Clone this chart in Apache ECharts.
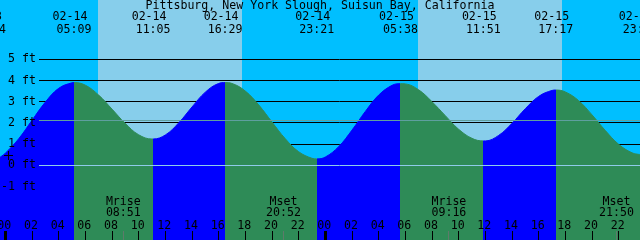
<!DOCTYPE html>
<html><head><meta charset="utf-8">
<script src="https://cdn.jsdelivr.net/npm/echarts@6/dist/echarts.min.js"></script>
<style>html,body{margin:0;padding:0;background:#00BFFF;overflow:hidden}#c{width:640px;height:240px}</style>
</head><body><div id="c"></div>
<script>
// ---- data (hours counted from 02-14 00:00) ----
const titleText = 'Pittsburg, New York Slough, Suisun Bay, California';
const tideHours = [-0.4, 0, 1, 2, 3, 4, 5, 5.15, 6, 7, 8, 9, 10, 11, 11.083, 12, 13, 14, 15, 16, 16.483, 17, 18, 19, 20, 21, 22, 23, 23.35,
  24, 25, 26, 27, 28, 29, 29.633, 30, 31, 32, 33, 34, 35, 35.85, 36, 37, 38, 39, 40, 41, 41.283, 42, 43, 44, 45, 46, 47, 47.6];
const tideFeet = [0.38, 0.57, 1.25, 2.12, 2.98, 3.63, 3.89, 3.90, 3.78, 3.31, 2.65, 1.97, 1.44, 1.24, 1.24, 1.43, 2.00, 2.75, 3.45, 3.86, 3.90, 3.86, 3.50, 2.85, 2.04, 1.25, 0.64, 0.33, 0.30,
  0.39, 0.88, 1.66, 2.54, 3.31, 3.77, 3.85, 3.84, 3.56, 3.00, 2.34, 1.70, 1.27, 1.15, 1.15, 1.41, 1.98, 2.67, 3.25, 3.53, 3.55, 3.46, 3.05, 2.38, 1.64, 0.99, 0.59, 0.51];
const extremeDates = ['02-13', '02-14', '02-14', '02-14', '02-14', '02-15', '02-15', '02-15', '02-15'];
const extremeClock = ['22:44', '05:09', '11:05', '16:29', '23:21', '05:38', '11:51', '17:17', '23:37'];
const extremeKinds = ['L', 'H', 'L', 'H', 'L', 'H', 'L', 'H', 'L'];
const sunRise = [6.95, 30.93];
const sunSet = [17.73, 41.73];
const hourTicks = [0, 2, 4, 6, 8, 10, 12, 14, 16, 18, 20, 22, 24, 26, 28, 30, 32, 34, 36, 38, 40, 42, 44, 46];
const hourLabels = ['00', '02', '04', '06', '08', '10', '12', '14', '16', '18', '20', '22', '00', '02', '04', '06', '08', '10', '12', '14', '16', '18', '20', '22'];
const footTicks = [-1, 0, 1, 2, 3, 4, 5];
const footLabels = ['-1 ft', '0 ft', '1 ft', '2 ft', '3 ft', '4 ft', '5 ft'];
const gridFeet = [1, 2, 3, 4, 5];
const datumFeet = [2.1, 0];
const moonDates = ['02-14', '02-14', '02-15', '02-15'];
const moonClock = ['08:51', '20:52', '09:16', '21:50'];
const moonKinds = ['Mrise', 'Mset', 'Mrise', 'Mset'];
const markerPoint = [0.24, 0.46];

// ---- styling ----
const X_MIN = -0.4, X_MAX = 47.6, Y_MIN = -3.524, Y_MAX = 7.797;
const NIGHT = '#00BFFF', DAY = '#87CEEB', RISE = '#0000FF', FALL = '#2E8B57';
const DATUM_COLORS = ['#5F9F9F', '#8FCBEA'];
const FONT = "11.6px 'DejaVu Sans Mono', monospace";

function toHours(d, c) {
  const day = (parseInt(d.slice(3), 10) - 14) * 24;
  const p = c.split(':').map(Number);
  return day + p[0] + p[1] / 60;
}
const extremeHours = extremeDates.map((d, i) => toHours(d, extremeClock[i]));
const moonHours = moonDates.map((d, i) => toHours(d, moonClock[i]));

const pieces = [];
for (let i = 0; i < extremeHours.length - 1; i++) {
  pieces.push({ gte: extremeHours[i], lt: extremeHours[i + 1], color: extremeKinds[i + 1] === 'H' ? RISE : FALL });
}
const skyBands = [];
let t0 = X_MIN;
for (let i = 0; i < sunRise.length; i++) {
  skyBands.push([t0, sunRise[i], 0]);
  skyBands.push([sunRise[i], sunSet[i], 1]);
  t0 = sunSet[i];
}
skyBands.push([t0, X_MAX, 0]);

function txt(text, x, y, align) {
  return { type: 'text', silent: true, style: { text: text, x: x, y: y, font: FONT, fill: '#000', align: align || 'center', verticalAlign: 'middle' } };
}

const chart = echarts.init(document.getElementById('c'), null, { renderer: 'canvas' });
chart.setOption({
  animation: false,
  backgroundColor: NIGHT,
  title: { text: titleText, left: 'center', top: 0, padding: 0, textStyle: { fontFamily: "'DejaVu Sans Mono', monospace", fontSize: 11.6, fontWeight: 'normal', color: '#000' } },
  grid: { left: 0, right: 0, top: 0, bottom: 0 },
  xAxis: { type: 'value', min: X_MIN, max: X_MAX, show: false },
  yAxis: { type: 'value', min: Y_MIN, max: Y_MAX, show: false },
  visualMap: { show: false, type: 'piecewise', dimension: 0, seriesIndex: 2, pieces: pieces, outOfRange: { color: FALL } },
  series: [
    { type: 'custom', z: 0, data: skyBands, renderItem: function (p, api) {
        const a = api.coord([api.value(0), Y_MAX]), b = api.coord([api.value(1), Y_MIN]);
        const x0 = Math.round(a[0]), x1 = Math.round(b[0]);
        return { type: 'rect', silent: true, shape: { x: x0, y: a[1], width: x1 - x0, height: b[1] - a[1] }, style: { fill: api.value(2) ? DAY : NIGHT } };
      } },
    { type: 'custom', z: 1, data: gridFeet.map(v => [X_MIN, v]), renderItem: function (p, api) {
        const y = Math.floor(api.coord([X_MIN, api.value(1)])[1]) + 0.5;
        const xr = api.coord([X_MAX, 0])[0];
        return { type: 'line', silent: true, shape: { x1: 39, y1: y, x2: xr, y2: y }, style: { stroke: '#000', lineWidth: 1 } };
      } },
    { type: 'line', z: 2, data: tideHours.map((h, i) => [h, tideFeet[i]]), smooth: 0.4, showSymbol: false, symbol: 'none',
      lineStyle: { width: 1 }, areaStyle: { opacity: 1, origin: 'start' } },
    { type: 'custom', z: 3, data: datumFeet.map((v, i) => [X_MIN, v, i]), renderItem: function (p, api) {
        const y = Math.floor(api.coord([X_MIN, api.value(1)])[1]) + 0.5;
        const xr = api.coord([X_MAX, 0])[0];
        return { type: 'line', silent: true, shape: { x1: 39, y1: y, x2: xr, y2: y }, style: { stroke: DATUM_COLORS[api.value(2)], lineWidth: 1 } };
      } },
    { type: 'custom', z: 4, data: footTicks.map(v => [X_MIN, v]), renderItem: function (p, api) {
        const y = api.coord([X_MIN, api.value(1)])[1];
        return txt(footLabels[p.dataIndex], 36, y, 'right');
      } },
    { type: 'custom', z: 4, data: extremeHours.map(h => [h, Y_MAX]), renderItem: function (p, api) {
        const x = api.coord([api.value(0), Y_MAX])[0];
        return { type: 'group', children: [
          txt(extremeDates[p.dataIndex], x - 4, 17),
          txt(extremeClock[p.dataIndex], x, 29.5)
        ] };
      } },
    { type: 'custom', z: 4, data: hourTicks.map(h => [h, Y_MIN]), renderItem: function (p, api) {
        const h = api.value(0);
        const pt = api.coord([h, Y_MIN]);
        const x = pt[0];
        const mid = (h % 24) === 0;
        const tick = mid
          ? { type: 'rect', silent: true, shape: { x: Math.round(x) - 1, y: pt[1] - 9, width: 3, height: 9 }, style: { fill: '#000' } }
          : { type: 'line', silent: true, shape: { x1: Math.floor(x) + 0.5, y1: pt[1] - 9, x2: Math.floor(x) + 0.5, y2: pt[1] }, style: { stroke: '#000', lineWidth: 1 } };
        return { type: 'group', children: [tick, txt(hourLabels[p.dataIndex], x - 1, 225.5)] };
      } },
    { type: 'custom', z: 4, data: moonHours.map(h => [h, Y_MIN]), renderItem: function (p, api) {
        const pt = api.coord([api.value(0), Y_MIN]);
        const x = pt[0];
        return { type: 'group', children: [
          { type: 'line', silent: true, shape: { x1: Math.floor(x) + 0.5, y1: pt[1] - 9, x2: Math.floor(x) + 0.5, y2: pt[1] }, style: { stroke: '#5E7A6A', lineWidth: 1 } },
          txt(moonKinds[p.dataIndex], x, 201.7),
          txt(moonClock[p.dataIndex], x, 213.3)
        ] };
      } },
    { type: 'scatter', z: 5, data: [markerPoint], symbol: 'path://M4,0h1v9h-1z M0,4h9v1h-9z', symbolSize: [9, 9],
      itemStyle: { color: '#000', opacity: 1 }, silent: true }
  ]
});
</script></body></html>
